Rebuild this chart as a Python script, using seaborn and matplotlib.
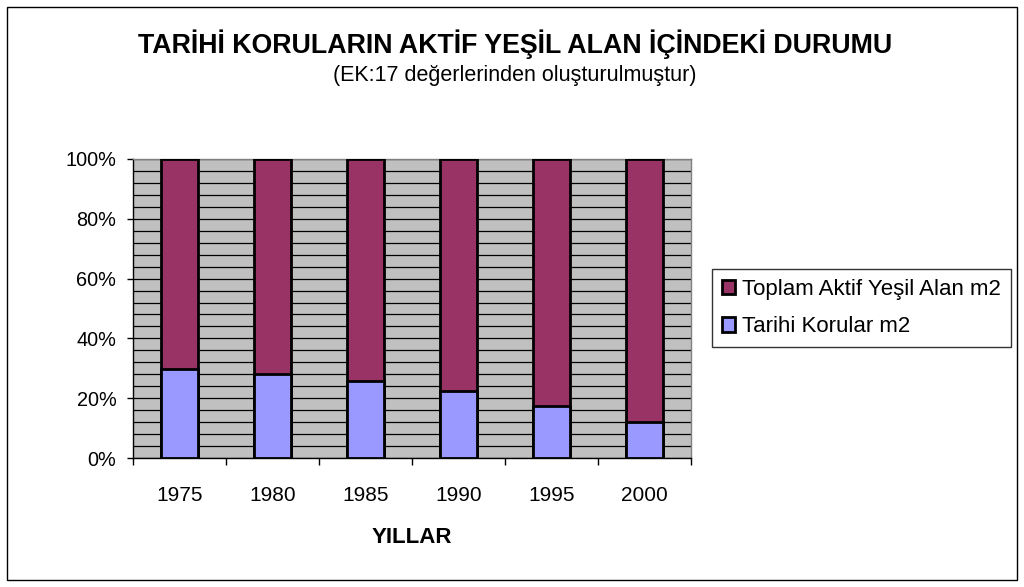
import matplotlib
matplotlib.use("Agg")
import matplotlib.pyplot as plt
import matplotlib.patches as mpatches
from matplotlib import font_manager
from matplotlib.ticker import MultipleLocator, FuncFormatter
import seaborn as sns
import pandas as pd

years = ["1975", "1980", "1985", "1990", "1995", "2000"]
tarihi_pct = [29.7, 28.0, 25.8, 22.4, 17.4, 12.0]
toplam_pct = [70.3, 72.0, 74.2, 77.6, 82.6, 88.0]
series_names = ["Toplam Aktif Yeşil Alan m2", "Tarihi Korular m2"]
colors = ["#993366", "#9999FF"]

sns.set_theme(style="white")
plt.rcParams["font.family"] = ["Liberation Sans", "DejaVu Sans"]
plt.rcParams["text.color"] = "black"
plt.rcParams["axes.labelcolor"] = "black"
plt.rcParams["xtick.color"] = "black"
plt.rcParams["ytick.color"] = "black"

names = {f.name for f in font_manager.fontManager.ttflist}
if "Liberation Sans Narrow" in names:
    title_family = ["Liberation Sans Narrow", "DejaVu Sans"]
    title_size = 23
else:
    title_family = ["Liberation Sans", "DejaVu Sans"]
    title_size = 19.3

df = pd.DataFrame({"year": years,
                   "bottom": tarihi_pct,
                   "total": [a + b for a, b in zip(tarihi_pct, toplam_pct)]})

fig = plt.figure(figsize=(10.24, 5.87), dpi=100)
ax = fig.add_axes([133/1024, 1-458/587, (691-133)/1024, (458-159)/587])
ax.set_facecolor("#C0C0C0")

sns.barplot(data=df, x="year", y="total", color=colors[0], width=0.4,
            edgecolor="black", linewidth=2, saturation=1, ax=ax, zorder=3)
sns.barplot(data=df, x="year", y="bottom", color=colors[1], width=0.4,
            edgecolor="black", linewidth=2, saturation=1, ax=ax, zorder=4)

ax.set_ylim(0, 100)
ax.set_xlim(-0.5, 5.5)
ax.yaxis.set_major_locator(MultipleLocator(20))
ax.yaxis.set_minor_locator(MultipleLocator(4))
ax.yaxis.set_major_formatter(FuncFormatter(lambda v, p: f"{int(v)}%"))
ax.grid(True, which="both", axis="y", color="black", linewidth=0.9, zorder=0)
ax.set_axisbelow(True)
ax.tick_params(axis="y", which="major", length=4.5, width=1, color="black",
               labelsize=14.3, left=True, pad=7.5)
ax.tick_params(axis="y", which="minor", length=0)
ax.set_xticks(range(len(years)))
ax.set_xticklabels(years)
ax.tick_params(axis="x", which="major", length=0, labelsize=15, pad=20)
ax.set_xticks([i - 0.5 for i in range(len(years) + 1)], minor=True)
ax.tick_params(axis="x", which="minor", length=5, width=1, color="black", bottom=True)
ax.set_xlabel("YILLAR", fontsize=16, fontweight="bold", labelpad=16)
ax.set_ylabel("")
for s in ["top", "right"]:
    ax.spines[s].set_color("#808080")
    ax.spines[s].set_linewidth(1)
for s in ["left", "bottom"]:
    ax.spines[s].set_color("black")
    ax.spines[s].set_linewidth(1)

fig.text(515/1024, 1-44/587, "TARİHİ KORULARIN AKTİF YEŞİL ALAN İÇİNDEKİ DURUMU",
         ha="center", va="center", fontsize=title_size, fontweight="bold",
         family=title_family)
fig.text(515/1024, 1-75/587, "(EK:17 değerlerinden oluşturulmuştur)",
         ha="center", va="center", fontsize=15.5)

handles = [mpatches.Patch(facecolor=c, edgecolor="black", linewidth=2, label=n)
           for c, n in zip(colors, series_names)]
leg = fig.legend(handles=handles, loc="center left",
                 bbox_to_anchor=(712/1024, 1-308/587), frameon=True,
                 fancybox=False, edgecolor="black", fontsize=16,
                 handlelength=0.6, handleheight=0.6, handletextpad=0.3,
                 borderpad=0.45, labelspacing=0.75, borderaxespad=0)
leg.get_frame().set_linewidth(1)

border = mpatches.Rectangle((7/1024, 7/587), 1010/1024, 573/587,
                            transform=fig.transFigure, fill=False,
                            edgecolor="black", linewidth=1)
fig.patches.append(border)

fig.savefig("out.png", dpi=100, facecolor="white")
